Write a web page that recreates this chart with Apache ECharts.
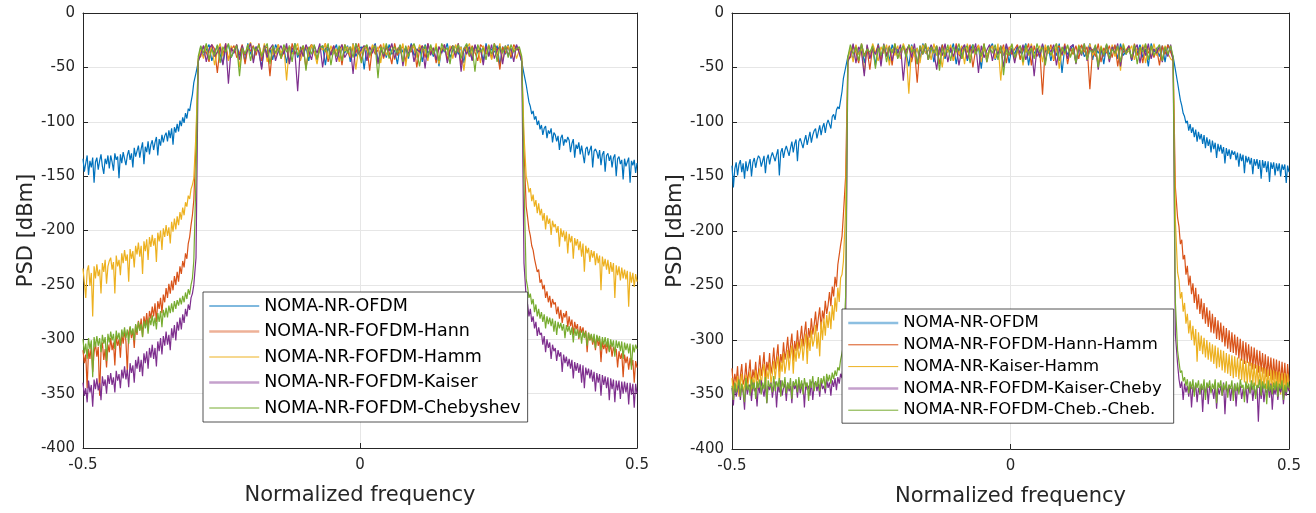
<!DOCTYPE html>
<html><head><meta charset="utf-8">
<script src="https://cdn.jsdelivr.net/npm/echarts@6/dist/echarts.min.js"></script>
<style>html,body{margin:0;padding:0;background:#fff}#chart{width:1316px;height:513px}</style>
</head><body><div id="chart"></div>
<script>
// ---------- frequency sample positions (normalized frequency) ----------
const freqLo = [
-0.5,-0.4975,-0.495,-0.4925,-0.49,-0.4875,-0.485,-0.4825,-0.48,-0.4775,
-0.475,-0.4725,-0.47,-0.4675,-0.465,-0.4625,-0.46,-0.4575,-0.455,-0.4525,
-0.45,-0.4475,-0.445,-0.4425,-0.44,-0.4375,-0.435,-0.4325,-0.43,-0.4275,
-0.425,-0.4225,-0.42,-0.4175,-0.415,-0.4125,-0.41,-0.4075,-0.405,-0.4025,
-0.4,-0.3975,-0.395,-0.3925,-0.39,-0.3875,-0.385,-0.3825,-0.38,-0.3775,
-0.375,-0.3725,-0.37,-0.3675,-0.365,-0.3625,-0.36,-0.3575,-0.355,-0.3525,
-0.35,-0.3475,-0.345,-0.3425,-0.34,-0.3375,-0.335,-0.3325,-0.33,-0.3275,
-0.325,-0.3225,-0.32,-0.3175,-0.315,-0.3125,-0.31,-0.3075,-0.305,-0.3025,
-0.3,-0.296,-0.292];
const freqMid = [
-0.2875,-0.2825,-0.2775,-0.2725,-0.2675,-0.2625,-0.2575,-0.2525,-0.2475,-0.2425,
-0.2375,-0.2325,-0.2275,-0.2225,-0.2175,-0.2125,-0.2075,-0.2025,-0.1975,-0.1925,
-0.1875,-0.1825,-0.1775,-0.1725,-0.1675,-0.1625,-0.1575,-0.1525,-0.1475,-0.1425,
-0.1375,-0.1325,-0.1275,-0.1225,-0.1175,-0.1125,-0.1075,-0.1025,-0.0975,-0.0925,
-0.0875,-0.0825,-0.0775,-0.0725,-0.0675,-0.0625,-0.0575,-0.0525,-0.0475,-0.0425,
-0.0375,-0.0325,-0.0275,-0.0225,-0.0175,-0.0125,-0.0075,-0.0025,0.0025,0.0075,
0.0125,0.0175,0.0225,0.0275,0.0325,0.0375,0.0425,0.0475,0.0525,0.0575,
0.0625,0.0675,0.0725,0.0775,0.0825,0.0875,0.0925,0.0975,0.1025,0.1075,
0.1125,0.1175,0.1225,0.1275,0.1325,0.1375,0.1425,0.1475,0.1525,0.1575,
0.1625,0.1675,0.1725,0.1775,0.1825,0.1875,0.1925,0.1975,0.2025,0.2075,
0.2125,0.2175,0.2225,0.2275,0.2325,0.2375,0.2425,0.2475,0.2525,0.2575,
0.2625,0.2675,0.2725,0.2775,0.2825,0.2875];
const freqHi = [0.292,0.296,0.3,
0.3025,0.305,0.3075,0.31,0.3125,0.315,0.3175,0.32,0.3225,0.325,
0.3275,0.33,0.3325,0.335,0.3375,0.34,0.3425,0.345,0.3475,0.35,
0.3525,0.355,0.3575,0.36,0.3625,0.365,0.3675,0.37,0.3725,0.375,
0.3775,0.38,0.3825,0.385,0.3875,0.39,0.3925,0.395,0.3975,0.4,
0.4025,0.405,0.4075,0.41,0.4125,0.415,0.4175,0.42,0.4225,0.425,
0.4275,0.43,0.4325,0.435,0.4375,0.44,0.4425,0.445,0.4475,0.45,
0.4525,0.455,0.4575,0.46,0.4625,0.465,0.4675,0.47,0.4725,0.475,
0.4775,0.48,0.4825,0.485,0.4875,0.49,0.4925,0.495,0.4975,0.5];

// ================= LEFT PANEL (PSD, dBm) =================
const namesLeft = ['NOMA-NR-OFDM','NOMA-NR-FOFDM-Hann','NOMA-NR-FOFDM-Hamm','NOMA-NR-FOFDM-Kaiser','NOMA-NR-FOFDM-Chebyshev'];

const ofdmL_lo = [
-134,-146,-138,-131,-149,-136,-142,-133,-156,-137,
-133,-144,-136,-130,-141,-148,-134,-139,-131,-143,
-131,-137,-145,-129,-135,-132,-152,-130,-138,-128,
-127,-140,-131,-126,-135,-129,-142,-124,-132,-127,
-122,-133,-125,-119,-139,-123,-128,-118,-130,-121,
-117,-126,-119,-114,-131,-116,-122,-112,-119,-113,
-110,-118,-108,-115,-106,-121,-105,-110,-102,-109,
-99,-104,-96,-101,-92,-97,-88,-90,-82,-75,
-64,-55,-45];
const ofdmL_mid = [
-31,-40,-34,-29,-44,-36,-30,-38,-47,-32,
-29,-41,-35,-30,-39,-33,-45,-28,-37,-42,
-31,-36,-50,-30,-38,-33,-43,-29,-35,-40,
-32,-46,-30,-37,-28,-41,-34,-39,-31,-44,
-29,-36,-42,-33,-30,-48,-31,-38,-35,-29,
-43,-32,-37,-30,-45,-28,-40,-34,-31,-52,
-30,-39,-33,-28,-44,-36,-31,-41,-29,-38,
-34,-47,-30,-36,-32,-42,-28,-39,-35,-31,
-45,-29,-37,-33,-40,-30,-49,-32,-36,-28,
-41,-34,-30,-38,-31,-46,-29,-35,-43,-30,
-37,-32,-44,-28,-39,-33,-36,-30,-48,-31,
-38,-29,-42,-34,-30,-36];
const ofdmL_hi = [-45,-56,-66,
-74,-82,-86,-93,-90,-98,-95,-103,-99,-107,
-103,-112,-106,-104,-115,-108,-111,-106,-119,-110,
-112,-118,-113,-126,-115,-112,-122,-116,-119,-114,
-117,-128,-120,-116,-133,-121,-125,-119,-130,-122,
-121,-138,-125,-123,-131,-126,-122,-142,-127,-125,
-128,-134,-126,-140,-130,-127,-146,-131,-129,-136,
-131,-142,-133,-130,-150,-134,-132,-139,-135,-153,
-134,-141,-137,-133,-156,-136,-140,-135,-147,-138];

const hannL_lo = [
-310,-322,-314,-345,-309,-318,-306,-330,-312,-304,
-316,-307,-352,-311,-303,-319,-309,-326,-305,-312,
-299,-310,-303,-324,-297,-306,-300,-317,-295,-304,
-292,-302,-330,-294,-289,-299,-291,-308,-287,-296,
-283,-292,-281,-298,-279,-287,-276,-290,-274,-281,
-270,-279,-267,-284,-265,-272,-262,-276,-259,-266,
-253,-262,-249,-258,-246,-255,-242,-250,-238,-247,
-233,-240,-228,-234,-221,-226,-212,-206,-195,-186,
-172,-120,-42];
const hannL_mid = [
-40,-30,-36,-45,-29,-33,-55,-31,-38,-28,
-43,-34,-30,-41,-37,-29,-47,-32,-35,-30,
-39,-28,-44,-33,-31,-58,-30,-37,-29,-42,
-35,-31,-46,-28,-38,-32,-40,-30,-51,-33,
-29,-37,-43,-31,-34,-28,-45,-36,-30,-39,
-32,-48,-29,-35,-41,-30,-37,-28,-44,-33,
-31,-53,-30,-38,-34,-29,-42,-32,-36,-47,
-28,-39,-33,-31,-45,-30,-36,-29,-50,-34,
-30,-41,-28,-37,-32,-46,-31,-35,-29,-43,
-33,-30,-39,-28,-48,-34,-31,-40,-30,-36,
-44,-29,-32,-38,-30,-42,-28,-35,-52,-31,
-37,-30,-41,-29,-34,-33];
const hannL_hi = [-42,-125,-178,
-188,-199,-205,-214,-218,-226,-232,-238,-236,-248,
-245,-254,-250,-262,-256,-266,-260,-271,-263,-268,
-266,-277,-270,-281,-273,-285,-276,-280,-274,-289,
-279,-288,-282,-296,-284,-291,-286,-300,-288,-294,
-289,-298,-292,-312,-294,-301,-296,-305,-298,-310,
-297,-306,-300,-321,-302,-309,-304,-313,-303,-311,
-305,-316,-307,-312,-309,-326,-311,-318,-313,-335,
-314,-322,-316,-328,-317,-325,-319,-340,-320,-326];

const hammL_lo = [
-235,-248,-262,-237,-232,-251,-239,-279,-233,-244,
-231,-242,-236,-258,-230,-238,-227,-249,-233,-228,
-225,-236,-229,-258,-223,-233,-227,-241,-221,-230,
-218,-228,-222,-247,-217,-226,-219,-234,-214,-222,
-211,-224,-214,-240,-210,-219,-208,-227,-206,-215,
-204,-214,-207,-229,-202,-210,-200,-218,-198,-206,
-195,-205,-197,-212,-192,-201,-189,-199,-187,-195,
-183,-190,-179,-186,-174,-178,-168,-171,-162,-158,
-152,-110,-44];
const hammL_mid = [
-33,-42,-29,-37,-31,-48,-35,-28,-40,-32,
-44,-30,-36,-29,-50,-33,-38,-31,-27,-43,
-34,-30,-39,-28,-45,-32,-36,-41,-29,-37,
-31,-62,-30,-38,-33,-28,-44,-35,-30,-40,
-29,-36,-47,-31,-34,-28,-42,-30,-38,-33,
-45,-29,-35,-31,-40,-28,-52,-32,-37,-30,
-34,-41,-29,-36,-31,-46,-28,-39,-33,-30,
-43,-32,-37,-28,-49,-31,-35,-30,-41,-29,
-36,-33,-44,-30,-38,-28,-47,-32,-34,-39,
-30,-42,-29,-36,-31,-53,-33,-28,-40,-35,
-31,-46,-30,-37,-29,-43,-32,-38,-28,-44,
-33,-30,-39,-31,-42,-34];
const hammL_hi = [-44,-112,-150,
-156,-165,-161,-173,-167,-178,-172,-184,-175,-186,
-180,-191,-184,-199,-186,-194,-189,-204,-191,-197,
-194,-202,-196,-215,-198,-206,-200,-210,-201,-221,
-203,-211,-205,-226,-207,-214,-208,-218,-210,-224,
-212,-238,-214,-221,-216,-229,-218,-225,-219,-232,
-221,-230,-223,-255,-224,-233,-226,-236,-227,-240,
-229,-238,-230,-262,-232,-241,-233,-246,-234,-244,
-236,-245,-237,-270,-238,-248,-239,-252,-240,-247];

const kaiserL_lo = [
-340,-352,-345,-358,-338,-349,-342,-362,-337,-346,
-336,-347,-340,-356,-334,-343,-337,-350,-333,-341,
-331,-342,-335,-349,-329,-338,-332,-345,-328,-336,
-325,-337,-328,-344,-322,-331,-324,-340,-319,-327,
-316,-330,-319,-334,-313,-322,-311,-327,-308,-317,
-305,-318,-308,-325,-302,-311,-299,-314,-297,-306,
-293,-305,-296,-310,-290,-299,-287,-301,-284,-292,
-280,-291,-277,-285,-272,-279,-268,-273,-262,-258,
-250,-225,-45];
const kaiserL_mid = [
-38,-30,-45,-33,-29,-40,-36,-31,-48,-28,
-65,-32,-37,-29,-43,-30,-39,-34,-28,-46,
-31,-36,-52,-30,-41,-33,-29,-44,-35,-30,
-38,-28,-47,-32,-36,-72,-31,-40,-29,-35,
-43,-30,-37,-28,-50,-33,-31,-39,-30,-45,
-34,-29,-41,-36,-31,-56,-28,-38,-33,-30,
-44,-31,-37,-29,-47,-32,-40,-30,-35,-28,
-42,-34,-30,-49,-31,-38,-29,-45,-33,-36,
-30,-51,-28,-39,-32,-43,-31,-37,-29,-46,
-35,-30,-41,-28,-54,-32,-38,-31,-44,-29,
-36,-33,-48,-30,-40,-29,-42,-34,-31,-47,
-30,-39,-32,-45,-29,-37];
const kaiserL_hi = [-45,-230,-262,
-268,-279,-272,-284,-279,-290,-284,-297,-289,-296,
-294,-305,-297,-312,-300,-308,-303,-318,-305,-311,
-308,-320,-310,-316,-312,-330,-314,-322,-316,-325,
-318,-327,-319,-336,-321,-329,-322,-331,-323,-340,
-324,-345,-326,-333,-327,-336,-328,-339,-330,-348,
-331,-340,-332,-352,-333,-342,-334,-345,-335,-356,
-336,-346,-337,-358,-338,-347,-338,-355,-339,-350,
-339,-349,-340,-360,-340,-351,-341,-363,-341,-350];

const chebL_lo = [
-300,-313,-304,-318,-299,-309,-301,-335,-298,-307,
-297,-306,-299,-312,-296,-304,-298,-320,-295,-303,
-293,-301,-295,-309,-292,-300,-294,-306,-291,-298,
-289,-299,-291,-304,-288,-296,-290,-301,-286,-294,
-284,-292,-286,-298,-283,-290,-282,-295,-280,-287,
-278,-288,-280,-291,-276,-284,-274,-289,-273,-280,
-271,-280,-269,-276,-267,-275,-265,-272,-264,-269,
-262,-268,-260,-266,-257,-263,-254,-259,-250,-244,
-228,-150,-40];
const chebL_mid = [
-30,-37,-28,-43,-33,-39,-29,-46,-31,-36,
-28,-41,-34,-30,-58,-32,-38,-29,-44,-31,
-35,-29,-40,-33,-28,-47,-30,-37,-32,-42,
-29,-36,-31,-45,-28,-39,-34,-30,-53,-31,
-38,-29,-43,-32,-30,-36,-28,-48,-33,-40,
-30,-44,-29,-37,-31,-41,-28,-35,-46,-32,
-29,-39,-33,-30,-60,-31,-38,-28,-42,-34,
-31,-37,-29,-45,-30,-40,-32,-28,-36,-49,
-33,-30,-41,-29,-38,-31,-44,-28,-35,-32,
-47,-30,-37,-29,-42,-33,-28,-39,-31,-54,
-29,-36,-32,-43,-30,-38,-28,-45,-31,-37,
-30,-41,-29,-36,-33,-31];
const chebL_hi = [-40,-155,-245,
-252,-262,-258,-268,-263,-275,-268,-279,-272,-281,
-275,-284,-277,-290,-279,-286,-280,-288,-281,-293,
-283,-296,-284,-290,-285,-292,-286,-299,-287,-293,
-288,-296,-289,-303,-290,-297,-291,-299,-292,-304,
-292,-299,-293,-306,-294,-301,-295,-303,-295,-308,
-296,-302,-297,-310,-298,-305,-298,-307,-299,-312,
-300,-307,-301,-316,-301,-308,-302,-311,-302,-318,
-303,-310,-304,-313,-304,-328,-305,-312,-305,-309];

// ================= RIGHT PANEL (PSD, dBm) =================
const namesRight = ['NOMA-NR-OFDM','NOMA-NR-FOFDM-Hann-Hamm','NOMA-NR-Kaiser-Hamm','NOMA-NR-FOFDM-Kaiser-Cheby','NOMA-NR-FOFDM-Cheb.-Cheb.'];

const ofdmR_lo = [
-140,-160,-143,-137,-149,-139,-135,-146,-138,-152,
-136,-145,-139,-134,-150,-137,-133,-142,-135,-131,
-133,-141,-136,-131,-147,-134,-130,-139,-132,-128,
-127,-136,-130,-125,-149,-128,-124,-133,-126,-122,
-121,-131,-124,-118,-128,-120,-116,-136,-118,-115,
-114,-124,-117,-112,-121,-115,-109,-119,-112,-108,
-106,-115,-109,-103,-112,-105,-101,-110,-102,-98,
-97,-106,-95,-93,-98,-89,-86,-88,-80,-72,
-60,-50,-40];
const ofdmR_mid = [
-34,-43,-30,-38,-29,-46,-33,-39,-31,-48,
-28,-40,-35,-31,-44,-29,-37,-33,-41,-30,
-36,-49,-29,-39,-32,-43,-28,-37,-34,-30,
-45,-31,-38,-29,-42,-33,-36,-28,-47,-32,
-39,-30,-44,-34,-29,-37,-31,-51,-30,-40,
-33,-28,-43,-36,-31,-39,-29,-46,-32,-38,
-30,-42,-35,-28,-48,-31,-37,-33,-41,-29,
-36,-30,-44,-32,-39,-28,-55,-31,-38,-34,
-29,-45,-33,-30,-40,-36,-28,-43,-31,-37,
-32,-47,-29,-38,-34,-30,-42,-28,-39,-35,
-31,-44,-30,-37,-29,-41,-33,-49,-28,-36,
-32,-40,-30,-45,-29,-35];
const ofdmR_hi = [-40,-52,-64,
-72,-80,-85,-92,-95,-101,-99,-108,-102,-110,
-105,-114,-107,-118,-109,-116,-111,-120,-112,-124,
-114,-122,-116,-128,-117,-125,-119,-133,-120,-127,
-121,-129,-123,-138,-124,-131,-125,-134,-126,-130,
-127,-135,-128,-141,-129,-136,-130,-147,-131,-137,
-132,-139,-133,-148,-134,-140,-134,-143,-135,-152,
-135,-142,-136,-146,-136,-155,-137,-143,-137,-149,
-138,-145,-138,-150,-139,-144,-139,-156,-140,-146];

const hannHammR_lo = [
-326,-344,-331,-339,-324,-348,-333,-322,-341,-336,
-321,-340,-330,-318,-343,-327,-335,-320,-337,-329,
-314,-333,-324,-311,-336,-320,-328,-312,-331,-322,
-307,-327,-316,-304,-329,-313,-321,-302,-318,-310,
-297,-317,-305,-294,-319,-301,-310,-291,-308,-299,
-287,-306,-294,-283,-308,-289,-298,-280,-295,-286,
-274,-292,-280,-270,-290,-273,-281,-264,-276,-268,
-256,-269,-251,-260,-242,-251,-231,-232,-213,-205,
-185,-150,-42];
const hannHammR_mid = [
-41,-30,-36,-46,-28,-39,-33,-52,-31,-37,
-29,-44,-32,-38,-30,-48,-28,-41,-35,-31,
-39,-29,-45,-33,-64,-30,-37,-28,-43,-32,
-36,-30,-47,-29,-40,-34,-31,-44,-28,-38,
-42,-31,-36,-29,-50,-33,-30,-39,-28,-45,
-34,-30,-41,-32,-37,-29,-46,-31,-38,-33,
-29,-43,-31,-36,-28,-48,-30,-40,-34,-75,
-31,-37,-29,-44,-33,-30,-39,-28,-47,-32,
-38,-30,-42,-29,-36,-31,-70,-33,-40,-28,
-45,-32,-37,-30,-41,-29,-49,-31,-36,-34,
-30,-43,-28,-39,-32,-46,-29,-37,-31,-41,
-33,-48,-30,-38,-29,-36];
const hannHammR_hi = [-42,-160,-188,
-196,-212,-208,-226,-222,-240,-232,-250,-241,-258,
-248,-266,-252,-272,-258,-276,-262,-281,-266,-285,
-270,-288,-273,-293,-276,-294,-279,-299,-282,-300,
-284,-302,-287,-306,-289,-308,-291,-311,-293,-312,
-295,-314,-297,-317,-299,-319,-301,-322,-302,-321,
-304,-324,-306,-327,-307,-326,-309,-330,-310,-329,
-312,-331,-313,-334,-315,-333,-316,-337,-317,-336,
-318,-339,-319,-341,-320,-340,-321,-343,-322,-338];

const kaiserHammR_lo = [
-335,-350,-338,-346,-333,-352,-340,-331,-348,-342,
-332,-347,-336,-329,-351,-334,-342,-328,-345,-337,
-326,-342,-330,-322,-346,-328,-336,-321,-340,-331,
-319,-336,-324,-315,-340,-320,-329,-312,-331,-322,
-309,-328,-314,-305,-331,-308,-320,-302,-317,-310,
-299,-319,-305,-294,-322,-297,-310,-291,-306,-300,
-286,-308,-293,-315,-283,-300,-280,-296,-277,-289,
-274,-290,-268,-282,-261,-274,-252,-265,-243,-240,
-228,-180,-44];
const kaiserHammR_mid = [
-32,-45,-29,-38,-33,-55,-30,-41,-28,-36,
-44,-31,-37,-29,-48,-33,-39,-30,-42,-28,
-35,-74,-30,-40,-32,-46,-29,-37,-31,-43,
-28,-39,-34,-50,-30,-36,-29,-44,-32,-38,
-30,-47,-28,-41,-33,-37,-29,-45,-31,-39,
-34,-30,-42,-28,-62,-31,-38,-33,-29,-44,
-36,-30,-48,-32,-39,-28,-41,-34,-30,-45,
-29,-37,-31,-43,-28,-51,-33,-38,-30,-40,
-32,-46,-29,-36,-31,-42,-28,-39,-34,-47,
-30,-38,-33,-44,-29,-40,-31,-53,-28,-37,
-35,-30,-43,-32,-38,-29,-46,-31,-41,-28,
-39,-33,-44,-30,-37,-42];
const kaiserHammR_hi = [-44,-190,-238,
-245,-262,-256,-274,-266,-285,-276,-294,-282,-300,
-287,-305,-290,-320,-293,-310,-296,-313,-298,-316,
-300,-318,-302,-320,-304,-322,-305,-326,-307,-325,
-309,-328,-310,-330,-312,-331,-313,-333,-314,-335,
-315,-334,-316,-336,-317,-337,-318,-339,-319,-340,
-320,-339,-321,-341,-322,-342,-323,-343,-324,-344,
-325,-344,-326,-345,-327,-346,-327,-348,-328,-347,
-329,-348,-329,-350,-330,-349,-330,-351,-331,-346];

const kaiserChebR_lo = [
-344,-360,-340,-352,-346,-339,-355,-342,-348,-364,
-338,-350,-343,-341,-356,-339,-347,-344,-361,-340,
-349,-337,-345,-352,-340,-358,-342,-346,-339,-353,
-343,-338,-362,-341,-348,-337,-351,-344,-340,-356,
-339,-347,-342,-358,-338,-345,-341,-353,-337,-349,
-343,-340,-362,-339,-346,-342,-351,-338,-355,-341,
-338,-347,-340,-352,-337,-345,-342,-349,-336,-344,
-339,-351,-337,-343,-335,-346,-334,-340,-331,-335,
-318,-290,-45];
const kaiserChebR_mid = [
-39,-28,-46,-31,-36,-58,-29,-42,-33,-38,
-30,-49,-28,-40,-32,-44,-31,-37,-29,-62,
-34,-30,-41,-28,-47,-33,-38,-30,-43,-29,
-36,-52,-31,-39,-28,-45,-32,-40,-30,-48,
-33,-29,-42,-31,-37,-28,-55,-30,-41,-34,
-29,-44,-32,-38,-30,-50,-28,-39,-33,-46,
-31,-37,-29,-43,-34,-30,-58,-32,-40,-28,
-45,-31,-36,-29,-48,-33,-38,-30,-42,-31,
-29,-47,-32,-39,-28,-44,-31,-36,-30,-52,
-33,-40,-29,-45,-31,-37,-28,-49,-32,-38,
-30,-43,-34,-29,-46,-31,-39,-28,-42,-33,
-37,-30,-45,-32,-40,-29];
const kaiserChebR_hi = [-45,-295,-322,
-336,-344,-338,-355,-340,-348,-342,-352,-339,-362,
-343,-348,-340,-357,-344,-350,-341,-366,-343,-349,
-340,-359,-342,-347,-345,-354,-341,-363,-344,-350,
-342,-351,-339,-368,-343,-348,-341,-356,-344,-350,
-340,-361,-343,-348,-342,-354,-345,-352,-341,-358,
-343,-349,-340,-356,-344,-351,-342,-375,-343,-354,
-341,-357,-345,-349,-342,-353,-340,-364,-344,-350,
-342,-355,-343,-348,-341,-359,-344,-351,-342,-347];

const chebChebR_lo = [
-342,-355,-339,-348,-344,-336,-352,-340,-347,-357,
-335,-346,-341,-351,-336,-345,-339,-354,-338,-344,
-336,-350,-339,-345,-334,-358,-337,-343,-340,-348,
-333,-347,-338,-343,-335,-352,-337,-344,-334,-349,
-339,-345,-335,-354,-338,-342,-336,-348,-334,-345,
-337,-350,-335,-343,-339,-356,-336,-344,-333,-347,
-338,-343,-334,-347,-335,-340,-333,-345,-331,-338,
-332,-340,-330,-336,-328,-333,-325,-328,-318,-312,
-305,-260,-40];
const chebChebR_mid = [
-29,-38,-31,-44,-28,-40,-33,-36,-30,-51,
-32,-39,-29,-45,-31,-37,-28,-42,-34,-30,
-41,-29,-36,-33,-47,-30,-38,-28,-43,-31,
-37,-30,-53,-32,-39,-29,-44,-31,-36,-28,
-42,-33,-30,-46,-29,-38,-32,-40,-28,-45,
-31,-37,-29,-43,-30,-57,-33,-39,-28,-41,
-34,-30,-45,-29,-38,-32,-42,-28,-36,-31,
-48,-30,-39,-33,-28,-44,-31,-37,-29,-41,
-32,-46,-30,-38,-28,-43,-34,-36,-29,-50,
-31,-39,-28,-42,-33,-37,-30,-45,-29,-38,
-32,-41,-29,-47,-31,-36,-28,-43,-30,-39,
-33,-29,-44,-31,-38,-30];
const chebChebR_hi = [-40,-265,-310,
-320,-330,-328,-338,-334,-342,-336,-349,-338,-345,
-336,-352,-339,-344,-337,-350,-340,-346,-336,-355,
-339,-344,-337,-349,-340,-345,-336,-358,-339,-344,
-337,-351,-340,-346,-338,-353,-341,-345,-337,-356,
-340,-347,-339,-350,-336,-344,-341,-357,-338,-345,
-340,-349,-337,-346,-339,-354,-341,-344,-336,-351,
-338,-345,-340,-359,-337,-347,-341,-350,-339,-346,
-338,-352,-340,-345,-337,-355,-341,-348,-339,-344];

// ---------- axis ticks ----------
const yTicks = [0,-50,-100,-150,-200,-250,-300,-350,-400];
const xTicks = [-0.5,0,0.5];

// ---------- styling ----------
const colors = ['#0072BD','#D95319','#EDB120','#7E2F8E','#77AC30'];
const FONT = 'DejaVu Sans';
const AX = '#262626';
const GRIDC = '#e6e6e6';
const LW = 1.2;

const leftSets  = [[ofdmL_lo,ofdmL_mid,ofdmL_hi],[hannL_lo,hannL_mid,hannL_hi],[hammL_lo,hammL_mid,hammL_hi],[kaiserL_lo,kaiserL_mid,kaiserL_hi],[chebL_lo,chebL_mid,chebL_hi]];
const rightSets = [[ofdmR_lo,ofdmR_mid,ofdmR_hi],[hannHammR_lo,hannHammR_mid,hannHammR_hi],[kaiserHammR_lo,kaiserHammR_mid,kaiserHammR_hi],[kaiserChebR_lo,kaiserChebR_mid,kaiserChebR_hi],[chebChebR_lo,chebChebR_mid,chebChebR_hi]];

function toPairs(parts){
  const out = [];
  [freqLo,freqMid,freqHi].forEach((fs,s)=>{
    const ys = parts[s];
    const n = Math.min(fs.length, ys.length);
    for (let i=0;i<n;i++) out.push([fs[i], ys[i]]);
  });
  return out;
}

function xAxesFor(g){
  const common = {gridIndex:g, type:'value', min:xTicks[0], max:xTicks[xTicks.length-1], interval:0.5,
    axisLine:{show:true,onZero:false,lineStyle:{color:AX,width:1}},
    axisTick:{show:true,inside:true,length:5,lineStyle:{color:AX,width:1}}};
  return [
    Object.assign({}, common, {position:'bottom',
      name:'Normalized frequency', nameLocation:'middle', nameGap:37,
      nameTextStyle:{fontFamily:FONT,fontSize:21,color:AX},
      axisLabel:{fontFamily:FONT,fontSize:15,color:AX,margin:10},
      splitLine:{show:true,lineStyle:{color:GRIDC,width:1}}}),
    Object.assign({}, common, {position:'top', axisLabel:{show:false}, splitLine:{show:false}})
  ];
}
function yAxesFor(g){
  const common = {gridIndex:g, type:'value', min:yTicks[yTicks.length-1], max:yTicks[0], interval:50,
    axisLine:{show:true,onZero:false,lineStyle:{color:AX,width:1}},
    axisTick:{show:true,inside:true,length:5,lineStyle:{color:AX,width:1}}};
  return [
    Object.assign({}, common, {position:'left',
      name:'PSD [dBm]', nameLocation:'middle', nameGap:46,
      nameTextStyle:{fontFamily:FONT,fontSize:21,color:AX},
      axisLabel:{fontFamily:FONT,fontSize:15,color:AX,margin:8},
      splitLine:{show:true,lineStyle:{color:GRIDC,width:1}}}),
    Object.assign({}, common, {position:'right', axisLabel:{show:false}, splitLine:{show:false}})
  ];
}

const series = [];
leftSets.forEach((parts,k)=>{
  series.push({type:'line', name:namesLeft[k], xAxisIndex:0, yAxisIndex:0, data:toPairs(parts),
    symbol:'none', silent:true, animation:false, lineStyle:{color:colors[k],width:LW}, itemStyle:{color:colors[k]}});
});
rightSets.forEach((parts,k)=>{
  series.push({type:'line', name:namesRight[k], xAxisIndex:2, yAxisIndex:2, data:toPairs(parts),
    symbol:'none', silent:true, animation:false, lineStyle:{color:colors[k],width:LW}, itemStyle:{color:colors[k]}});
});

function legendData(names, thick){
  return names.map((n,k)=> thick.indexOf(k)>=0
    ? {name:n, itemStyle:{opacity:0}, lineStyle:{width:2.5,opacity:0.45}}
    : {name:n, itemStyle:{opacity:0}, lineStyle:{width:1}});
}

const option = {
  backgroundColor:'#ffffff',
  animation:false,
  grid:[
    {left:83, top:13, width:554, height:435},
    {left:732, top:13, width:557, height:436}
  ],
  xAxis:[].concat(xAxesFor(0), xAxesFor(1)),
  yAxis:[].concat(yAxesFor(0), yAxesFor(1)),
  legend:[
    {data:legendData(namesLeft,[1,3]), orient:'vertical', left:203, top:292,
     padding:[4,7,4,5], itemWidth:50, itemHeight:14, itemGap:5.5,
     itemStyle:{opacity:0},
     backgroundColor:'#fff', borderColor:AX, borderWidth:0.8, borderRadius:0,
     textStyle:{fontFamily:FONT,fontSize:17.5,color:'#000',lineHeight:20}, selectedMode:false},
    {data:legendData(namesRight,[0,3]), orient:'vertical', left:842, top:309,
     padding:[5,12,4,5], itemWidth:50, itemHeight:14, itemGap:3.8,
     itemStyle:{opacity:0},
     backgroundColor:'#fff', borderColor:AX, borderWidth:0.8, borderRadius:0,
     textStyle:{fontFamily:FONT,fontSize:16.5,color:'#000',lineHeight:18}, selectedMode:false}
  ],
  series:series
};
const chart = echarts.init(document.getElementById('chart'), null, {renderer:'canvas'});
chart.setOption(option);
</script></body></html>
